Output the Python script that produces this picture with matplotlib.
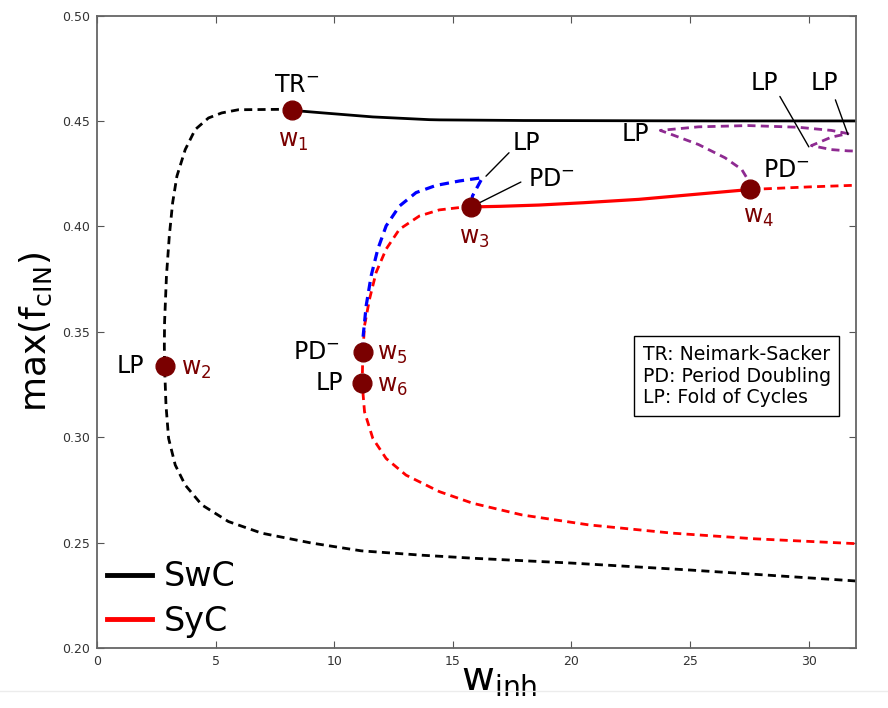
import matplotlib
matplotlib.use("Agg")
import matplotlib.pyplot as plt
from matplotlib.lines import Line2D

# ---------------- data ----------------
swc_stable_x = [8.23, 9.53, 11.63, 14.01, 14.43, 18.0, 22.0, 26.0, 32.0]
swc_stable_y = [0.455, 0.4538, 0.4519, 0.4506, 0.4505, 0.4502, 0.4501, 0.4500, 0.4500]

swc_unstable_x = [8.23, 7.78, 5.96, 5.26, 4.70, 4.14, 3.72, 3.37, 3.19, 3.05, 2.93, 2.85,
                  2.84, 2.85, 2.91, 3.02, 3.30, 3.72, 4.42, 5.54, 6.94, 9.04, 11.14,
                  13.73, 16.0, 20.0, 25.0, 32.0]
swc_unstable_y = [0.455, 0.4555, 0.4553, 0.4538, 0.4514, 0.4459, 0.4364, 0.4238, 0.4112,
                  0.3955, 0.3766, 0.3545, 0.3435, 0.3337, 0.3151, 0.2994, 0.2868, 0.2773,
                  0.2679, 0.2600, 0.2545, 0.2498, 0.2461, 0.2440, 0.2425, 0.2403, 0.2370,
                  0.2318]

syc_low_x = [11.21, 11.18, 11.28, 11.63, 12.19, 13.03, 14.43, 15.83, 17.93, 20.74, 24.24, 27.74, 32.0]
syc_low_y = [0.3404, 0.3255, 0.312, 0.2994, 0.2899, 0.282, 0.2742, 0.2687, 0.2631, 0.2584, 0.2545, 0.2518, 0.2495]

syc_up_dash_x = [11.21, 11.28, 11.49, 11.77, 12.19, 12.75, 13.59, 14.43, 15.27, 15.76]
syc_up_dash_y = [0.3404, 0.3529, 0.3655, 0.3782, 0.3892, 0.3986, 0.4049, 0.4078, 0.4089, 0.4092]

syc_stable_x = [15.76, 17.0, 18.63, 20.5, 22.84, 25.64, 27.55]
syc_stable_y = [0.4092, 0.4095, 0.4101, 0.4112, 0.4128, 0.4156, 0.4175]

syc_right_dash_x = [27.55, 30.0, 32.0]
syc_right_dash_y = [0.4175, 0.4187, 0.4195]

blue_x = [11.21, 11.21, 11.35, 11.56, 11.84, 12.19, 12.75, 13.45, 14.29, 15.27, 16.25, 15.83, 15.76]
blue_y = [0.3404, 0.3467, 0.3624, 0.3766, 0.3892, 0.4002, 0.4096, 0.416, 0.4194, 0.4215, 0.4231, 0.4144, 0.4092]

purple_x = [27.55, 27.39, 27.18, 26.48, 25.36, 24.24, 23.75, 25.36, 27.46, 29.56, 30.96,
            31.66, 30.96, 30.12, 30.96, 31.66, 32.0]
purple_y = [0.4175, 0.4231, 0.427, 0.4325, 0.4388, 0.4435, 0.4455, 0.4472, 0.4478, 0.447,
            0.4455, 0.444, 0.4423, 0.4383, 0.4364, 0.4358, 0.4357]

# special points
pt_names = ["w1", "w2", "w3", "w4", "w5", "w6"]
pt_x = [8.23, 2.85, 15.76, 27.55, 11.21, 11.18]
pt_y = [0.455, 0.3337, 0.4092, 0.4175, 0.3404, 0.3255]

# leader lines (label end -> curve end)
leader_from = [(17.37, 0.4349), (17.87, 0.4210), (28.79, 0.4616), (31.13, 0.4600)]
leader_to = [(16.40, 0.4238), (15.95, 0.4102), (30.01, 0.4377), (31.66, 0.4435)]

x_ticks = [0, 5, 10, 15, 20, 25, 30]
y_ticks = [0.20, 0.25, 0.30, 0.35, 0.40, 0.45, 0.50]

# ---------------- figure ----------------
fig = plt.figure(figsize=(8.88, 7.08), dpi=100)
ax = fig.add_axes([0.1092, 0.0847, 0.8548, 0.8934])

dash = (2.9, 1.9)
lw = 2.0
ax.plot(swc_stable_x, swc_stable_y, color="black", lw=lw, solid_capstyle="butt")
ax.plot(swc_unstable_x, swc_unstable_y, color="black", lw=lw, linestyle=(0, dash))
ax.plot(syc_low_x, syc_low_y, color="red", lw=lw, linestyle=(0, dash))
ax.plot(syc_up_dash_x, syc_up_dash_y, color="red", lw=lw, linestyle=(0, dash))
ax.plot(syc_stable_x, syc_stable_y, color="red", lw=2.3)
ax.plot(syc_right_dash_x, syc_right_dash_y, color="red", lw=lw, linestyle=(0, dash))
ax.plot(blue_x, blue_y, color="blue", lw=2.3, linestyle=(0, dash))
ax.plot(purple_x, purple_y, color="#8e2a91", lw=lw, linestyle=(0, dash))

for a, b in zip(leader_from, leader_to):
    ax.annotate("", xy=b, xytext=a,
                arrowprops=dict(arrowstyle="-", lw=1, color="black", shrinkA=0, shrinkB=0))

ax.plot(pt_x, pt_y, linestyle="none", marker="o", ms=13.5, color="#7a0000", zorder=5)

wc = "#7a0000"
fs = 17
# w labels
ax.text(8.27, 0.4405, r"w$_1$", color=wc, fontsize=fs, ha="center", va="center")
ax.text(3.55, 0.3325, r"w$_2$", color=wc, fontsize=fs, ha="left", va="center")
ax.text(15.9, 0.3945, r"w$_3$", color=wc, fontsize=fs, ha="center", va="center")
ax.text(27.88, 0.4045, r"w$_4$", color=wc, fontsize=fs, ha="center", va="center")
ax.text(11.80, 0.3395, r"w$_5$", color=wc, fontsize=fs, ha="left", va="center")
ax.text(11.80, 0.3245, r"w$_6$", color=wc, fontsize=fs, ha="left", va="center")

# bifurcation labels
ax.text(8.41, 0.4672, r"TR$^{-}$", fontsize=fs, ha="center", va="center")
ax.text(1.41, 0.3337, "LP", fontsize=fs, ha="center", va="center")
ax.text(10.25, 0.3404, r"PD$^{-}$", fontsize=fs, ha="right", va="center")
ax.text(10.36, 0.3255, "LP", fontsize=fs, ha="right", va="center")
ax.text(22.70, 0.4440, "LP", fontsize=fs, ha="center", va="center")
ax.text(29.05, 0.4265, r"PD$^{-}$", fontsize=fs, ha="center", va="center")
ax.text(18.10, 0.4395, "LP", fontsize=fs, ha="center", va="center")
ax.text(19.15, 0.4225, r"PD$^{-}$", fontsize=fs, ha="center", va="center")
ax.text(28.12, 0.4682, "LP", fontsize=fs, ha="center", va="center")
ax.text(30.68, 0.4682, "LP", fontsize=fs, ha="center", va="center")

# info box
ax.text(23.0, 0.3290, "TR: Neimark-Sacker\nPD: Period Doubling\nLP: Fold of Cycles",
        fontsize=13.6, ha="left", va="center", linespacing=1.18,
        bbox=dict(boxstyle="square,pad=0.45", facecolor="white", edgecolor="black", lw=1))

# legend
handles = [Line2D([], [], color="black", lw=3.5), Line2D([], [], color="red", lw=3.5)]
ax.legend(handles, ["SwC", "SyC"], loc="lower left", frameon=False, fontsize=24,
          handlelength=1.35, handletextpad=0.35, labelspacing=0.35,
          borderaxespad=0.2, borderpad=0.1)

ax.set_xlim(0, 32)
ax.set_ylim(0.2, 0.5)
ax.set_xticks(x_ticks)
ax.set_yticks(y_ticks)
ax.set_yticklabels([f"{v:.2f}" for v in y_ticks])
ax.tick_params(direction="in", top=True, right=True, length=5, width=0.8,
               labelsize=9, colors="#555555", labelcolor="#333333", pad=5)
for s in ax.spines.values():
    s.set_color("#666666")
    s.set_linewidth(1.3)

ax.set_xlabel(r"w$_{\mathrm{inh}}$", fontsize=29)
ax.xaxis.set_label_coords(0.53, -0.018)
ax.xaxis.label.set_va("top")
ax.set_ylabel(r"max(f$_{\mathrm{cIN}}$)", fontsize=26, labelpad=6)

fig.add_artist(Line2D([0.0, 1.0], [1 - 691 / 708, 1 - 691 / 708], transform=fig.transFigure,
                      color="#ececec", lw=1))

fig.savefig("out.png", dpi=100)
